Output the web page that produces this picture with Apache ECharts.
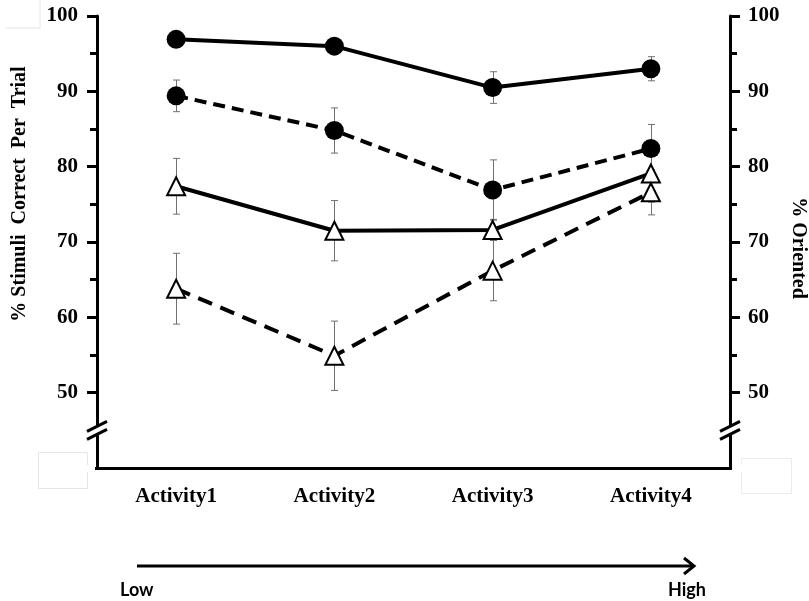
<!DOCTYPE html>
<html><head><meta charset="utf-8">
<script src="https://cdn.jsdelivr.net/npm/echarts@6/dist/echarts.min.js"></script>
<style>html,body{margin:0;padding:0;background:#fff}#c{width:809px;height:601px}</style>
</head><body><div id="c"></div>
<script>
const categories = ['Activity1', 'Activity2', 'Activity3', 'Activity4'];
const yTickLabels = [50, 60, 70, 80, 90, 100];
// solid line, filled circles
const circleSolid = [96.9, 96.0, 90.5, 93.0];
const circleSolidErr = [0.8, 0.8, 2.1, 1.6];
// dashed line, filled circles
const circleDashed = [89.4, 84.8, 76.9, 82.4];
const circleDashedErr = [2.1, 3.0, 4.0, 3.2];
// solid line, open triangles
const triSolid = [77.4, 71.5, 71.6, 79.1];
const triSolidErr = [3.7, 4.0, 1.4, 3.8];
// dashed line, open triangles
const triDashed = [63.8, 54.9, 66.2, 76.6];
const triDashedErr = [4.7, 4.6, 4.0, 3.0];

const chart = echarts.init(document.getElementById('c'), null, {renderer: 'canvas'});
const serif = 'Liberation Serif';

function errData(vals, errs) {
  return vals.map((v, i) => [i, v - errs[i], v + errs[i]]);
}
function errRender(params, api) {
  const x = api.value(0), lo = api.value(1), hi = api.value(2);
  const p1 = api.coord([x, hi]), p2 = api.coord([x, lo]);
  const w = 3.5, cx = Math.round(p1[0]) + 0.5;
  const st = {stroke: '#707070', lineWidth: 1};
  return {type: 'group', children: [
    {type: 'line', shape: {x1: cx, y1: p1[1], x2: cx, y2: p2[1]}, style: st},
    {type: 'line', shape: {x1: cx - w, y1: p1[1], x2: cx + w, y2: p1[1]}, style: st},
    {type: 'line', shape: {x1: cx - w, y1: p2[1], x2: cx + w, y2: p2[1]}, style: st}
  ]};
}
function yAxisCfg(pos) {
  return {
    type: 'value', position: pos, min: 40, max: 100, interval: 10,
    axisLine: {show: true, lineStyle: {color: '#000', width: 3}},
    axisTick: {show: true, length: 10, lineStyle: {color: '#000', width: 3}},
    minorTick: {show: true, splitNumber: 2, length: 7, lineStyle: {color: '#000', width: 3}},
    splitLine: {show: false},
    axisLabel: {
      formatter: v => yTickLabels.includes(v) ? String(v) : '',
      fontFamily: serif, fontWeight: 'bold', fontSize: 21, color: '#000',
      margin: pos === 'left' ? 19 : 18
    }
  };
}
function lineSeries(name, data, dashed, symbol, axis, dash) {
  return {
    name, type: 'line', data, yAxisIndex: axis,
    symbol, symbolSize: symbol === 'circle' ? 19 : 18,
    itemStyle: symbol === 'circle' ? {color: '#000', borderColor: '#000', borderWidth: 0}
                                    : {color: '#fff', borderColor: '#000', borderWidth: 2},
    lineStyle: {color: '#000', width: 4, type: dashed ? dash : 'solid'},
    z: 4, animation: false
  };
}
function errSeries(vals, errs, axis) {
  return {type: 'custom', yAxisIndex: axis, renderItem: errRender,
    data: errData(vals, errs), encode: {x: 0, y: [1, 2]}, z: 2, animation: false, silent: true};
}

chart.setOption({
  backgroundColor: '#fff',
  animation: false,
  grid: {left: 97, right: 79, top: 16, bottom: 133},
  xAxis: {
    type: 'category', data: categories, boundaryGap: true,
    axisLine: {lineStyle: {color: '#000', width: 3}},
    axisTick: {alignWithLabel: true, length: 10, lineStyle: {color: '#000', width: 3}},
    axisLabel: {fontFamily: serif, fontWeight: 'bold', fontSize: 21, color: '#000', margin: 18},
    splitLine: {show: false}
  },
  yAxis: [yAxisCfg('left'), yAxisCfg('right')],
  series: [
    errSeries(circleSolid, circleSolidErr, 0),
    errSeries(circleDashed, circleDashedErr, 0),
    errSeries(triSolid, triSolidErr, 1),
    errSeries(triDashed, triDashedErr, 1),
    lineSeries('Correct (A)', circleSolid, false, 'circle', 0),
    lineSeries('Correct (B)', circleDashed, true, 'circle', 0, [12, 7]),
    lineSeries('Oriented (A)', triSolid, false, 'triangle', 1),
    lineSeries('Oriented (B)', triDashed, true, 'triangle', 1, [15, 9])
  ]
});

// decorations: axis breaks, names, arrow
const L = 97, R = 730;
const yBreak = chart.convertToPixel({yAxisIndex: 0}, 45);
const yBottom = chart.convertToPixel({yAxisIndex: 0}, 40);
function breakMark(x) {
  return [
    {type: 'rect', shape: {x: x - 14, y: yBreak - 6, width: 13, height: 12}, style: {fill: '#fff'}, z: 100},
    {type: 'polygon', shape: {points: [[x - 10, yBreak + 2], [x + 10, yBreak - 8], [x + 10, yBreak - 2], [x - 10, yBreak + 8]]}, style: {fill: '#fff'}, z: 100},
    {type: 'line', shape: {x1: x - 10, y1: yBreak + 1, x2: x + 10, y2: yBreak - 9}, style: {stroke: '#000', lineWidth: 3}, z: 101},
    {type: 'line', shape: {x1: x - 10, y1: yBreak + 9, x2: x + 10, y2: yBreak - 1}, style: {stroke: '#000', lineWidth: 3}, z: 101}
  ];
}
chart.setOption({
  graphic: [
    // hide the tick at the hidden bottom value on both axes
    {type: 'rect', shape: {x: L - 14, y: yBottom - 3, width: 12, height: 7}, style: {fill: '#fff'}, z: 100},
    {type: 'rect', shape: {x: R + 2, y: yBottom - 3, width: 12, height: 7}, style: {fill: '#fff'}, z: 100},
    ...breakMark(L),
    ...breakMark(R),
    {type: 'text', x: 20, y: 194, rotation: Math.PI / 2,
      style: {text: '% Stimuli  Correct  Per  Trial', fontFamily: serif, fontWeight: 'bold', fontSize: 20, fill: '#000', align: 'center', verticalAlign: 'middle'}, z: 100},
    {type: 'text', x: 798, y: 248, rotation: -Math.PI / 2,
      style: {text: '% Oriented', fontFamily: serif, fontWeight: 'bold', fontSize: 20, fill: '#000', align: 'center', verticalAlign: 'middle'}, z: 100},
    // low-to-high arrow
    {type: 'line', shape: {x1: 137, y1: 566, x2: 692, y2: 566}, style: {stroke: '#000', lineWidth: 3}, z: 100},
    {type: 'polyline', shape: {points: [[684, 558], [694, 566], [684, 574]]}, style: {stroke: '#000', lineWidth: 3, fill: null}, z: 100},
    {type: 'text', x: 120, y: 590, style: {text: 'Low', fontFamily: 'Lato', fontWeight: 'bold', fontSize: 18, fill: '#000', align: 'left', verticalAlign: 'middle'}, z: 100},
    {type: 'text', x: 706, y: 590, style: {text: 'High', fontFamily: 'Lato', fontWeight: 'bold', fontSize: 18, fill: '#000', align: 'right', verticalAlign: 'middle'}, z: 100},
    // faint scan boxes
    {type: 'polyline', shape: {points: [[6, 28], [40, 28], [40, 0]]}, style: {stroke: '#e6e6e6', lineWidth: 1, fill: null}, z: 1},
    {type: 'rect', shape: {x: 38.5, y: 452.5, width: 49, height: 36}, style: {stroke: '#e6e6e6', lineWidth: 1, fill: null}, z: 1},
    {type: 'rect', shape: {x: 741.5, y: 458.5, width: 50, height: 35}, style: {stroke: '#ececec', lineWidth: 1, fill: null}, z: 1}
  ]
});
</script>
</body></html>
